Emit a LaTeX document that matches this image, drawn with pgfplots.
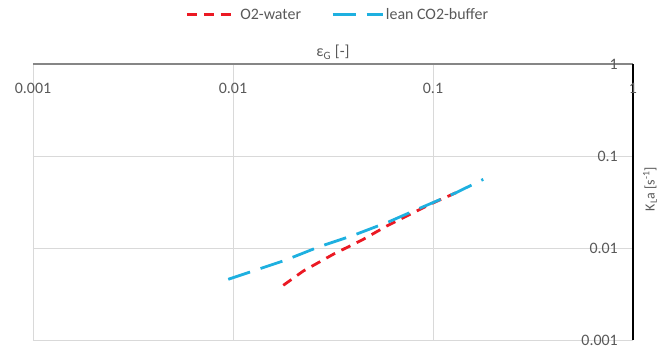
\documentclass[border=0pt]{standalone}
\usepackage{fontspec}
\setmainfont{Carlito}
\usepackage{pgfplots}
\pgfplotsset{compat=1.18}
\definecolor{oxred}{RGB}{235,25,35}
\definecolor{cyanb}{RGB}{30,176,224}
\definecolor{gridgray}{RGB}{217,217,217}
\definecolor{txtgray}{RGB}{89,89,89}
\definecolor{axgray}{RGB}{134,134,134}

\begin{document}
\begin{tikzpicture}
\begin{axis}[
  name=ax,
  scale only axis,
  width=600bp, height=276bp,
  xmode=log, ymode=log,
  xmin=0.001, xmax=1, ymin=0.001, ymax=1,
  axis x line*=top, axis y line*=right,
  axis line style={-},
  x axis line style={draw=axgray, line width=1.6bp},
  y axis line style={draw=black, line width=1.2bp},
  xtick={0.001,0.01,0.1,1}, xticklabels={0.001,0.01,0.1,1},
  ytick={0.001,0.01,0.1,1}, yticklabels={0.001,0.01,0.1,1},
  major tick length=0, minor tick length=0,
  grid=major, major grid style={gridgray, line width=0.8bp},
  tick label style={font=\fontsize{16}{19}\selectfont, text=txtgray,
    /pgf/number format/assume math mode=true},
  xticklabel style={anchor=base, yshift=-29bp},
  yticklabel style={anchor=east, inner sep=1bp, xshift=-14bp},
  label style={font=\fontsize{16}{19}\selectfont, text=txtgray},
  xlabel={ε\textsubscript{G} [-]},
  xlabel style={at={(axis description cs:0.5,1)}, anchor=center, yshift=12bp},
  legend style={at={(axis description cs:0.508,1.178)}, anchor=center,
    draw=none, fill=none, legend columns=2,
    font=\fontsize{16}{19}\selectfont, text=txtgray,
    /tikz/every even column/.append style={column sep=28bp}},
  legend image code/.code={\draw[#1] (0bp,0bp) -- (50bp,0bp);},
]
% O2-water
\addplot[oxred, line width=2.8bp, dash pattern=on 10bp off 7bp] coordinates {
  (0.01784, 0.00393)
  (0.02246, 0.00562)
  (0.0317, 0.00854)
  (0.0448, 0.01242)
  (0.0587, 0.01734)
  (0.0966, 0.02985)
  (0.1303, 0.0399)
};
\addlegendentry{O2-water}
% lean CO2-buffer
\addplot[cyanb, line width=2.8bp, dash pattern=on 23bp off 11bp] coordinates {
  (0.00947, 0.00457)
  (0.0182, 0.00735)
  (0.0270, 0.01033)
  (0.0400, 0.01374)
  (0.0598, 0.01918)
  (0.0871, 0.02742)
  (0.1303, 0.0399)
  (0.1784, 0.0558)
};
\addlegendentry{lean CO2-buffer}
\end{axis}
\node[rotate=90, font=\fontsize{14}{17}\selectfont, text=txtgray]
  at ([xshift=17bp,yshift=13bp]ax.east) {K\textsubscript{L}a [s\textsuperscript{-1}]};
\pgfresetboundingbox
\path[use as bounding box] ([xshift=-33bp,yshift=-9bp]ax.south west)
  rectangle ([xshift=30bp,yshift=64bp]ax.north east);
\end{tikzpicture}
\end{document}
